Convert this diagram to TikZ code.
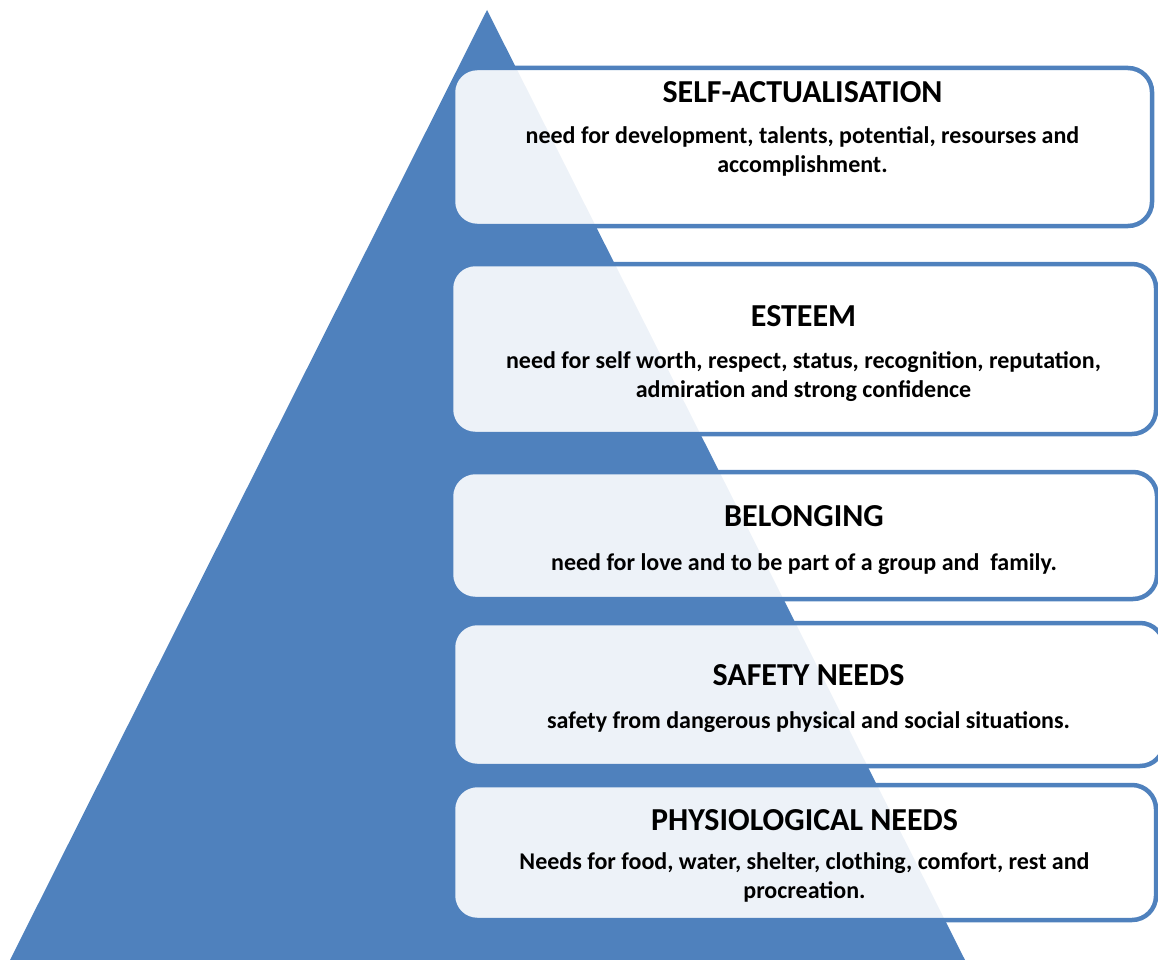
\documentclass[tikz,border=0pt]{standalone}
\usepackage{fontspec}
\setmainfont{Carlito}
\usetikzlibrary{positioning}
\definecolor{pyrblue}{RGB}{79,129,189}

\begin{document}
\begin{tikzpicture}[x=1pt,y=-1pt,
    level/.style={draw=pyrblue,line width=4.5pt,rounded corners=24pt,fill=white,fill opacity=0.9,inner sep=0pt},
    heading/.style={anchor=base,inner sep=0pt,font=\bfseries\fontsize{32}{38}\selectfont},
    detail/.style={anchor=base,inner sep=0pt,align=center,font=\bfseries\fontsize{24}{28.5}\selectfont}]
            \path[use as bounding box,clip] (0,0) rectangle (1158,960);
            \fill[pyrblue] (487,10) -- (10,960) -- (965,960) -- cycle;

            \node[level,minimum width=699pt,minimum height=158pt] (b1) at (802.5,147) {};
            \node[level,minimum width=705pt,minimum height=170pt] (b2) at (803.5,349) {};
            \node[level,minimum width=706pt,minimum height=127pt] (b3) at (804,535.5) {};
            \node[level,minimum width=711pt,minimum height=143pt] (b4) at (808.5,694.5) {};
            \node[level,minimum width=703pt,minimum height=135pt] (b5) at (804.5,852.5) {};

            \node[heading] (t1) at ([yshift=-37pt]b1.north) {SELF-ACTUALISATION};
            \node[heading] (t2) at ([yshift=-65pt]b2.north) {ESTEEM};
            \node[heading] (t3) at ([yshift=-57pt]b3.north) {BELONGING};
            \node[heading] (t4) at ([yshift=-65pt]b4.north) {SAFETY NEEDS};
            \node[heading] (t5) at ([yshift=-48pt]b5.north) {PHYSIOLOGICAL NEEDS};

            \node[detail] (d1) at ([yshift=-69.5pt]t1.base) {need for development, talents, potential, resourses and\\accomplishment.};
            \node[detail] (d2) at ([yshift=-70.5pt]t2.base) {need for self worth, respect, status, recognition, reputation,\\admiration and strong confidence};
            \node[detail] (d3) at ([yshift=-44pt]t3.base) {need for love and to be part of a group and\ \ family.};
            \node[detail] (d4) at ([yshift=-43pt]t4.base) {safety from dangerous physical and social situations.};
            \node[detail] (d5) at ([yshift=-67.5pt]t5.base) {Needs for food, water, shelter, clothing, comfort, rest and\\procreation.};
        \end{tikzpicture}
\end{document}
